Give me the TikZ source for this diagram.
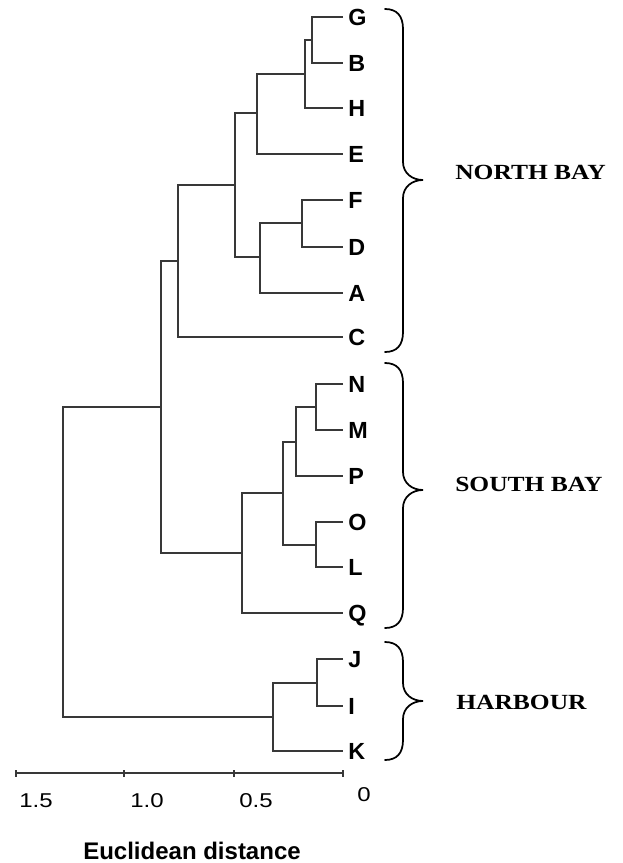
\documentclass[tikz,border=0pt]{standalone}
\usepackage{fontspec}
\setmainfont{Liberation Serif}
\setsansfont{Liberation Sans}
\begin{document}
\begin{tikzpicture}[x=0.75pt,y=-0.75pt,
  branch/.style={draw=black!78,line width=0.8pt},
  leaf/.style={font=\sffamily\bfseries\fontsize{17.5}{17.5}\selectfont,anchor=west,inner xsep=3.8pt,inner ysep=0pt,text height=12.5pt,text depth=0pt},
  ticklab/.style={font=\sffamily\fontsize{15}{15}\selectfont,inner sep=0pt,xscale=1.2},
  grouplab/.style={font=\rmfamily\bfseries\fontsize{16.2}{16.2}\selectfont,anchor=west,inner sep=0pt,xscale=1.18,text height=10.7pt,text depth=0pt},
  bracestyle/.style={draw=black,line width=1.3pt,line cap=round}]
\useasboundingbox (0,0) rectangle (623,863);
% leaves
\foreach \n/\y in {G/17,B/63,H/108,E/154,F/200,D/247,A/293,C/337,N/384,M/430,P/476,O/522,L/567,Q/613,J/659,I/706,K/751}
  \node[leaf] (\n) at (343,\y) {\n};
% junctions
\coordinate (jGB) at (312,40);
\coordinate (jGBH) at (305,74);
\coordinate (jGBHE) at (257,113);
\coordinate (jFD) at (302,223);
\coordinate (jFDA) at (260,257);
\coordinate (jN7) at (235,185);
\coordinate (jNorth) at (178,261);
\coordinate (jNM) at (316,407);
\coordinate (jNMP) at (296,442);
\coordinate (jOL) at (316,545);
\coordinate (jS5) at (283,493);
\coordinate (jSouth) at (242,553);
\coordinate (jNS) at (161,407);
\coordinate (jJI) at (317,683);
\coordinate (jHarb) at (273,717);
\coordinate (root) at (63,562);
% branches
\draw[branch] (G.west) -| (jGB) |- (B.west);
\draw[branch] (jGB) -| (jGBH) |- (H.west);
\draw[branch] (jGBH) -| (jGBHE) |- (E.west);
\draw[branch] (F.west) -| (jFD) |- (D.west);
\draw[branch] (jFD) -| (jFDA) |- (A.west);
\draw[branch] (jGBHE) -| (jN7) |- (jFDA);
\draw[branch] (jN7) -| (jNorth) |- (C.west);
\draw[branch] (N.west) -| (jNM) |- (M.west);
\draw[branch] (jNM) -| (jNMP) |- (P.west);
\draw[branch] (O.west) -| (jOL) |- (L.west);
\draw[branch] (jNMP) -| (jS5) |- (jOL);
\draw[branch] (jS5) -| (jSouth) |- (Q.west);
\draw[branch] (jNorth) -| (jNS) |- (jSouth);
\draw[branch] (J.west) -| (jJI) |- (I.west);
\draw[branch] (jJI) -| (jHarb) |- (K.west);
\draw[branch] (jNS) -| (root) |- (jHarb);
% axis
\coordinate (ax0) at (16,773);
\coordinate (ax1) at (343,773);
\draw[branch] (ax0) -- (ax1);
\foreach \x in {16,124,234,343} \draw[branch] (\x,770) -- (\x,777);
\node[ticklab] (l15) at (36,801) {1.5};
\node[ticklab] (l10) at (147,801) {1.0};
\node[ticklab] (l05) at (256,801) {0.5};
\node[ticklab] (l0) at (364,795) {0};
\node[font=\sffamily\bfseries\fontsize{18}{18}\selectfont,inner sep=0pt] (xlab) at (192,851) {Euclidean distance};
% braces
\newcommand{\mybrace}[3]{%
  \draw[bracestyle] (385,#1) .. controls (397,#1) and (403,{#1+7}) .. (403,{#1+20})
    -- (403,{#3-18}) .. controls (403,{#3-7}) and (412,#3) .. (423,#3)
    .. controls (412,#3) and (403,{#3+7}) .. (403,{#3+18})
    -- (403,{#2-20}) .. controls (403,{#2-7}) and (397,#2) .. (385,#2);}
\mybrace{9}{352}{180}
\mybrace{363}{628}{490}
\mybrace{642}{760}{701}
\node[grouplab] (north) at (455,172) {NORTH BAY};
\node[grouplab] (south) at (455,484) {SOUTH BAY};
\node[grouplab] (harb) at (456,702) {HARBOUR};
\end{tikzpicture}
\end{document}
